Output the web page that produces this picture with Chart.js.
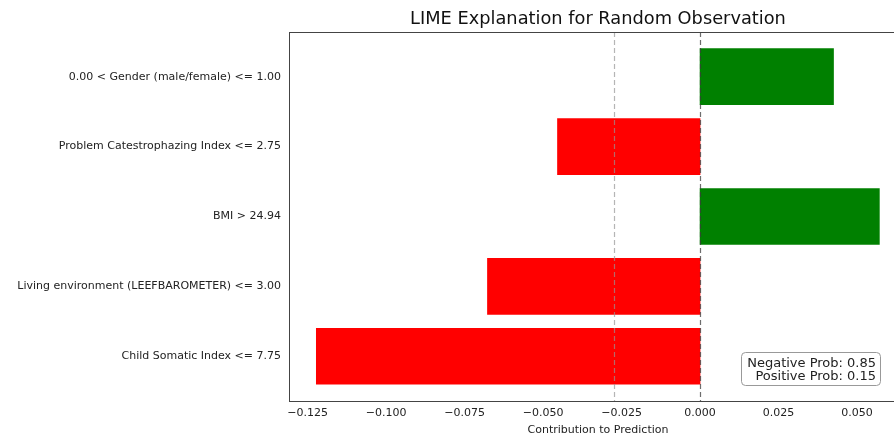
<!DOCTYPE html>
<html>
<head>
<meta charset="utf-8">
<script src="https://cdn.jsdelivr.net/npm/chart.js@4/dist/chart.umd.min.js"></script>
<style>
  html, body { margin: 0; padding: 0; background: #fff; overflow: hidden; }
  #wrap { width: 920px; height: 439px; }
</style>
</head>
<body>
<div id="wrap"><canvas id="lime" width="920" height="439"></canvas></div>
<script>
// feature rules, top to bottom
const features = [
  '0.00 < Gender (male/female) <= 1.00',
  'Problem Catestrophazing Index <= 2.75',
  'BMI > 24.94',
  'Living environment (LEEFBAROMETER) <= 3.00',
  'Child Somatic Index <= 7.75'
];
const weights = [0.0425, -0.0454, 0.0571, -0.0677, -0.1222];
const xTicks = [-0.125, -0.100, -0.075, -0.050, -0.025, 0.000, 0.025, 0.050];
const meanLine = -0.0273;
const probLines = ['Negative Prob: 0.85', 'Positive Prob: 0.15'];

const FONT = 'DejaVu Sans';

// dashed reference lines, frame and probability box
const extras = {
  id: 'extras',
  afterDatasetsDraw(chart) {
    const { ctx, chartArea: a, scales: { x } } = chart;
    ctx.save();
    ctx.lineWidth = 1.2;
    ctx.setLineDash([5, 3]);
    ctx.strokeStyle = 'rgba(150,150,150,0.7)';
    let px = Math.round(x.getPixelForValue(meanLine)) + 0.5;
    ctx.beginPath(); ctx.moveTo(px, a.top); ctx.lineTo(px, a.bottom); ctx.stroke();
    ctx.strokeStyle = 'rgba(60,60,60,0.75)';
    px = Math.round(x.getPixelForValue(0)) + 0.5;
    ctx.beginPath(); ctx.moveTo(px, a.top); ctx.lineTo(px, a.bottom); ctx.stroke();
    ctx.setLineDash([]);

    // frame
    ctx.strokeStyle = '#444';
    ctx.lineWidth = 1;
    ctx.strokeRect(Math.round(a.left) + 0.5, Math.round(a.top) + 0.5,
      Math.round(a.right - a.left), Math.round(a.bottom - a.top));

    // probability box
    ctx.font = '13px "' + FONT + '"';
    const bx = 741, by = 352, bw = 139, bh = 33;
    ctx.fillStyle = 'rgba(255,255,255,0.85)';
    ctx.strokeStyle = '#999';
    ctx.beginPath();
    ctx.roundRect(bx + 0.5, by + 0.5, bw, bh, 4);
    ctx.fill(); ctx.stroke();
    ctx.fillStyle = '#222';
    ctx.textAlign = 'right';
    ctx.textBaseline = 'alphabetic';
    ctx.fillText(probLines[0], bx + bw - 4, by + 15);
    ctx.fillText(probLines[1], bx + bw - 4, by + 28);
    ctx.restore();
  }
};

new Chart(document.getElementById('lime'), {
  type: 'bar',
  data: {
    datasets: [{
      data: weights.map((w, i) => ({ x: w, y: i })),
      backgroundColor: weights.map(w => w > 0 ? '#008000' : '#ff0000'),
      barThickness: 56,
      borderWidth: 0
    }]
  },
  options: {
    indexAxis: 'y',
    responsive: false,
    animation: false,
    layout: { padding: { left: 0, right: 13, top: 0, bottom: 0 } },
    plugins: {
      legend: { display: false },
      tooltip: { enabled: false },
      title: {
        display: true,
        fullSize: false,
        text: 'LIME Explanation for Random Observation',
        color: '#111',
        font: { family: FONT, size: 17.8, weight: 'normal' },
        padding: { top: 9, bottom: 1.6 }
      }
    },
    scales: {
      x: {
        type: 'linear',
        min: -0.1309,
        max: 0.0659,
        grid: { display: false, drawTicks: true, tickLength: 4, tickColor: '#444' },
        border: { display: false },
        afterBuildTicks: s => { s.ticks = xTicks.map(v => ({ value: v })); },
        afterFit: s => { s.height = 38; },
        ticks: {
          color: '#222',
          font: { family: FONT, size: 11 },
          padding: 2,
          maxRotation: 0,
          callback: v => (v < 0 ? '\u2212' : '') + Math.abs(v).toFixed(3)
        },
        title: {
          display: true,
          text: 'Contribution to Prediction',
          color: '#222',
          font: { family: FONT, size: 11 },
          padding: { top: 0, bottom: 2 }
        }
      },
      y: {
        type: 'linear',
        reverse: true,
        offset: false,
        min: -0.64,
        max: 4.64,
        grid: { display: false, offset: false, drawTicks: true, tickLength: 4, tickColor: '#444' },
        border: { display: false },
        afterBuildTicks: s => { s.ticks = features.map((f, i) => ({ value: i })); },
        afterFit: s => { s.width = 289; },
        ticks: {
          color: '#222',
          font: { family: FONT, size: 11 },
          padding: 4,
          callback: v => features[v]
        }
      }
    }
  },
  plugins: [extras]
});
</script>
</body>
</html>
